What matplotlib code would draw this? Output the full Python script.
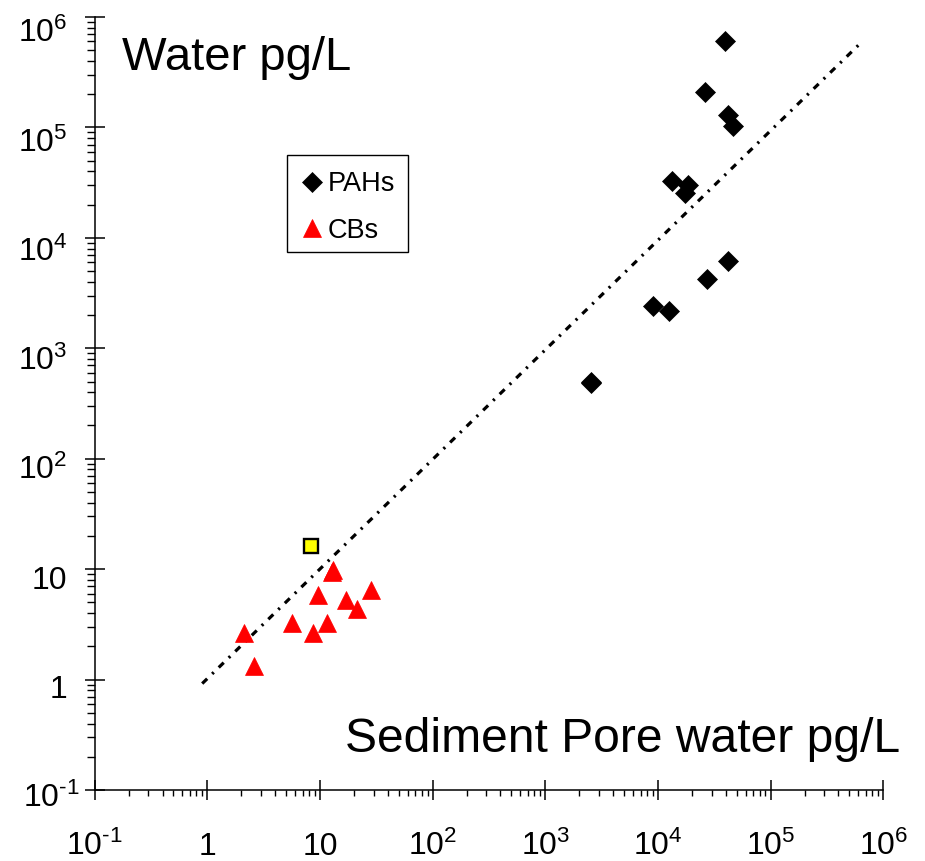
import matplotlib
matplotlib.use('Agg')
import matplotlib.pyplot as plt
import matplotlib.transforms as mtransforms
from matplotlib.patches import Rectangle
from matplotlib.ticker import FixedLocator, LogLocator, NullFormatter

plt.rcParams['font.family'] = ['Liberation Sans', 'DejaVu Sans']
plt.rcParams['mathtext.fontset'] = 'custom'
plt.rcParams['mathtext.rm'] = 'Liberation Sans'
plt.rcParams['mathtext.it'] = 'Liberation Sans:italic'
plt.rcParams['mathtext.bf'] = 'Liberation Sans:bold'
plt.rcParams['lines.scale_dashes'] = False

# ---- data ----
pah_x = [3.93e4, 2.61e4, 4.21e4, 4.66e4, 1.32e4, 1.86e4, 1.73e4,
         4.21e4, 2.70e4, 9.1e3, 1.26e4, 2.52e3, 2.55e3]
pah_y = [6.1e5, 2.11e5, 1.30e5, 1.03e5, 3.27e4, 3.01e4, 2.54e4,
         6.2e3, 4.2e3, 2.43e3, 2.19e3, 498, 488]
cb_x = [13.1, 12.7, 28.3, 9.53, 16.9, 21.4, 5.60, 11.5, 2.13, 8.6, 2.61]
cb_y = [9.8, 9.4, 6.47, 5.84, 5.26, 4.33, 3.24, 3.24, 2.66, 2.62, 1.34]
ref_x = [8.3]
ref_y = [16.3]
line_x = [0.9, 6.5e5]
line_y = [0.92, 6.0e5]
tick_values = [1e-1, 1, 10, 1e2, 1e3, 1e4, 1e5, 1e6]
tick_labels = ['$\\mathregular{10^{\u20101}}$', '1', '10',
               r'$\mathregular{10^{2}}$', r'$\mathregular{10^{3}}$',
               r'$\mathregular{10^{4}}$', r'$\mathregular{10^{5}}$',
               r'$\mathregular{10^{6}}$']
legend_labels = ['PAHs', 'CBs']

fig = plt.figure(figsize=(9.25, 8.61), dpi=100)
ax = fig.add_axes([0.10238, 0.08246, 0.85254, 0.8978])
ax.set_xscale('log')
ax.set_yscale('log')
ax.set_xlim(1e-1, 1e6)
ax.set_ylim(1e-1, 1e6)

ax.plot(line_x, line_y, color='black', lw=2.3,
        linestyle=(0, (5.0, 5.0, 1.6, 5.0)), zorder=1)
pah, = ax.plot(pah_x, pah_y, linestyle='none', marker='D', ms=10,
               mfc='black', mec='black', mew=0.5, zorder=3)
cb, = ax.plot(cb_x, cb_y, linestyle='none', marker='^', ms=13,
              mfc='#ff0000', mec='#ff0000', mew=0.5, zorder=3)
ax.plot(ref_x, ref_y, linestyle='none', marker='s', ms=9.5,
        mfc='#ffff00', mec='black', mew=1.7, zorder=4)

for s in ['top', 'right']:
    ax.spines[s].set_visible(False)
for s in ['left', 'bottom']:
    ax.spines[s].set_linewidth(1.1)

ax.xaxis.set_major_locator(FixedLocator(tick_values))
ax.yaxis.set_major_locator(FixedLocator(tick_values))
ax.xaxis.set_minor_locator(LogLocator(base=10, subs=range(2, 10), numticks=50))
ax.yaxis.set_minor_locator(LogLocator(base=10, subs=range(2, 10), numticks=50))
ax.xaxis.set_minor_formatter(NullFormatter())
ax.yaxis.set_minor_formatter(NullFormatter())
ax.set_xticks(tick_values)
ax.set_xticklabels(tick_labels)
ax.set_yticks(tick_values)
ax.set_yticklabels(tick_labels)

ax.tick_params(which='major', direction='inout', length=14.4, width=1.1,
               labelsize=23)
ax.tick_params(axis='x', which='major', pad=39.5)
ax.tick_params(axis='y', which='major', pad=12.5)
ax.tick_params(axis='x', which='minor', direction='out', length=4.3, width=1.0)
ax.tick_params(axis='y', which='minor', direction='out', length=5.8, width=1.0)

for lab in ax.get_xticklabels():
    lab.set_va('baseline')
for i, lab in enumerate(ax.get_yticklabels()):
    lab.set_va('baseline')
    dy = -(17 + i * 1.2) / 100
    dx = 12 / 100 if i == 0 else 0
    lab.set_transform(lab.get_transform() +
                      mtransforms.ScaledTranslation(dx, dy, fig.dpi_scale_trans))

fig.text(0.1316, 1 - 70 / 861, 'Water pg/L', fontsize=34,
         ha='left', va='baseline')
fig.text(0.3725, 1 - 751.7 / 861, 'Sediment Pore water pg/L', fontsize=34.6,
         ha='left', va='baseline')

# legend box (frame) and entries
bx0, by0, bx1, by1 = 287, 155, 408, 252
box = Rectangle((bx0 / 925, 1 - by1 / 861),
                (bx1 - bx0) / 925, (by1 - by0) / 861,
                transform=fig.transFigure, fill=True, clip_on=False,
                facecolor='white', edgecolor='black', lw=1.0, zorder=5)
ax.add_artist(box)
leg = ax.legend([pah, cb], legend_labels, loc='upper left',
                bbox_to_anchor=((bx0 - 5 - 94.7) / 788.6, (790 - by0) / 773),
                borderaxespad=0, frameon=False, fontsize=19.5, numpoints=1,
                handlelength=1.0, handletextpad=0.1, borderpad=0.6,
                labelspacing=0.75)
leg.set_zorder(6)

fig.savefig('out.png', dpi=100)
